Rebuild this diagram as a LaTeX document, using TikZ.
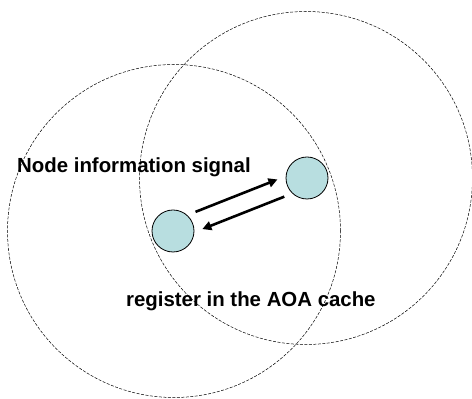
\documentclass[tikz,border=0pt]{standalone}
\usepackage{fontspec}
\setmainfont{Liberation Sans}
\usetikzlibrary{arrows.meta}

\definecolor{nodefill}{HTML}{B8DEE0}

\tikzset{
  txrange/.style={draw,dashed,dash pattern=on 3pt off 1.5pt,line width=0.5pt,circle,minimum size=333pt,inner sep=0pt},
  sensor/.style={draw,circle,fill=nodefill,line width=0.8pt,minimum size=42pt,inner sep=0pt,outer sep=0pt},
  sig/.style={-{Triangle[length=9pt,width=9pt]},line width=2.6pt,shorten <=7pt,shorten >=7pt},
  lbl/.style={font=\fontsize{20.4}{24}\selectfont\bfseries,inner sep=0pt,anchor=base west}
}

\begin{document}
\begin{tikzpicture}[x=1pt,y=1pt]
  \useasboundingbox (0,0) rectangle (472,399);
  % transmission ranges
  \node[txrange] (rangeA) at (174,168) {};
  \node[txrange] (rangeB) at (306,221) {};
  % the two nodes
  \node[sensor] (nodeA) at (173,168) {};
  \node[sensor] (nodeB) at (307,221) {};
  \draw[sig,transform canvas={shift={(111.6:9.5pt)}}] (nodeA) -- (nodeB);
  \draw[sig,transform canvas={shift={(-68.4:9pt)}}] (nodeB) -- (nodeA);
  \node[lbl] (signal) at (17,226.7) {Node information signal};
  \node[lbl] (cache) at (126,92) {register in the AOA cache};
\end{tikzpicture}
\end{document}
